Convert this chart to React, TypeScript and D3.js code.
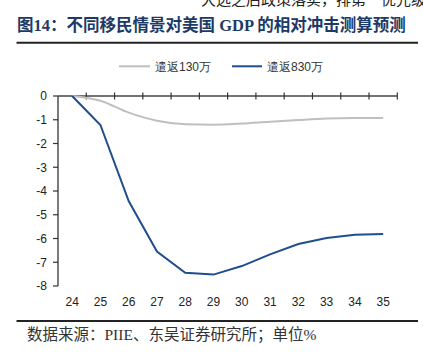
import React from "react";
import * as d3 from "d3";

const years = ["24", "25", "26", "27", "28", "29", "30", "31", "32", "33", "34", "35"];
const deport130 = [0, -0.2, -0.7, -1.04, -1.19, -1.21, -1.16, -1.08, -1.01, -0.95, -0.93, -0.93];
const deport830 = [0, -1.22, -4.42, -6.55, -7.44, -7.52, -7.16, -6.67, -6.23, -5.98, -5.84, -5.81];
const yTicks = [0, -1, -2, -3, -4, -5, -6, -7, -8];
const seriesNames = ["遣返130万", "遣返830万"];

export default function App() {
  const W = 423, H = 357;
  const x = d3.scaleBand<string>().domain(years).range([58, 397.3]).padding(0);
  const y = d3.scaleLinear().domain([-8, 0]).range([286, 96]);
  const cx = (d: string) => (x(d) as number) + x.bandwidth() / 2;

  const grayLine = d3.line<number>()
    .x((_, i) => cx(years[i]))
    .y((v) => y(v))
    .curve(d3.curveMonotoneX);
  const blueLine = d3.line<number>()
    .x((_, i) => cx(years[i]))
    .y((v) => y(v))
    .curve(d3.curveLinear);

  const boundaries = years.map((d) => x(d) as number).concat([x.range()[1]]);
  const labelFont = "'Liberation Sans', Arial, sans-serif";
  const cjkSerif = "'Liberation Serif', 'Noto Sans CJK SC', serif";

  return (
    <svg width={W} height={H} style={{ position: "absolute", left: 0, top: 0, background: "#fff" }}>
      <rect x={0} y={0} width={W} height={H} fill="#fff" />
      {/* clipped text continuing from the page above */}
      <text x={201} y={5} fontSize={15} fontFamily={cjkSerif} fill="#222">大选之后政策落实，排第一优先级；</text>

      {/* title */}
      <text x={17} y={31} fontSize={16.5} fontWeight="bold" fontFamily={cjkSerif} fill="#1d3a66">
        图14：不同移民情景对美国 GDP 的相对冲击测算预测
      </text>
      <line x1={16.5} x2={418} y1={42.7} y2={42.7} stroke="#222" strokeWidth={2} />

      {/* legend */}
      <line x1={119} x2={150} y1={66.3} y2={66.3} stroke="#bfbfbf" strokeWidth={2} />
      <text x={155} y={70.5} fontSize={12} fontFamily={labelFont} fill="#333">{seriesNames[0]}</text>
      <line x1={232} x2={262} y1={66.3} y2={66.3} stroke="#1f4e8c" strokeWidth={2} />
      <text x={267} y={70.5} fontSize={12} fontFamily={labelFont} fill="#333">{seriesNames[1]}</text>

      {/* y axis */}
      <line x1={58} x2={58} y1={y(0)} y2={y(-8)} stroke="#333" strokeWidth={1.3} />
      {yTicks.map((t) => (
        <g key={t}>
          <line x1={53} x2={58} y1={y(t)} y2={y(t)} stroke="#333" strokeWidth={1.2} />
          <text x={47} y={y(t) + 4.3} textAnchor="end" fontSize={12} fontFamily={labelFont} fill="#222">{t}</text>
        </g>
      ))}

      {/* x axis at zero */}
      <line x1={58} x2={x.range()[1]} y1={y(0)} y2={y(0)} stroke="#444" strokeWidth={1.5} />
      {boundaries.slice(1).map((b, i) => (
        <line key={i} x1={b} x2={b} y1={y(0) - 3.5} y2={y(0) + 3.5} stroke="#333" strokeWidth={1.2} />
      ))}
      {years.map((d) => (
        <text key={d} x={cx(d)} y={306} textAnchor="middle" fontSize={12} fontFamily={labelFont} fill="#222">{d}</text>
      ))}

      {/* series */}
      <path d={grayLine(deport130) || ""} fill="none" stroke="#bfbfbf" strokeWidth={2} />
      <path d={blueLine(deport830) || ""} fill="none" stroke="#1f4e8c" strokeWidth={2} />

      {/* bottom rule and source */}
      <line x1={16.5} x2={418} y1={321} y2={321} stroke="#222" strokeWidth={2} />
      <text x={27} y={339.5} fontSize={15.5} fontFamily={cjkSerif} fill="#333">数据来源：PIIE、东吴证券研究所；单位%</text>
    </svg>
  );
}
